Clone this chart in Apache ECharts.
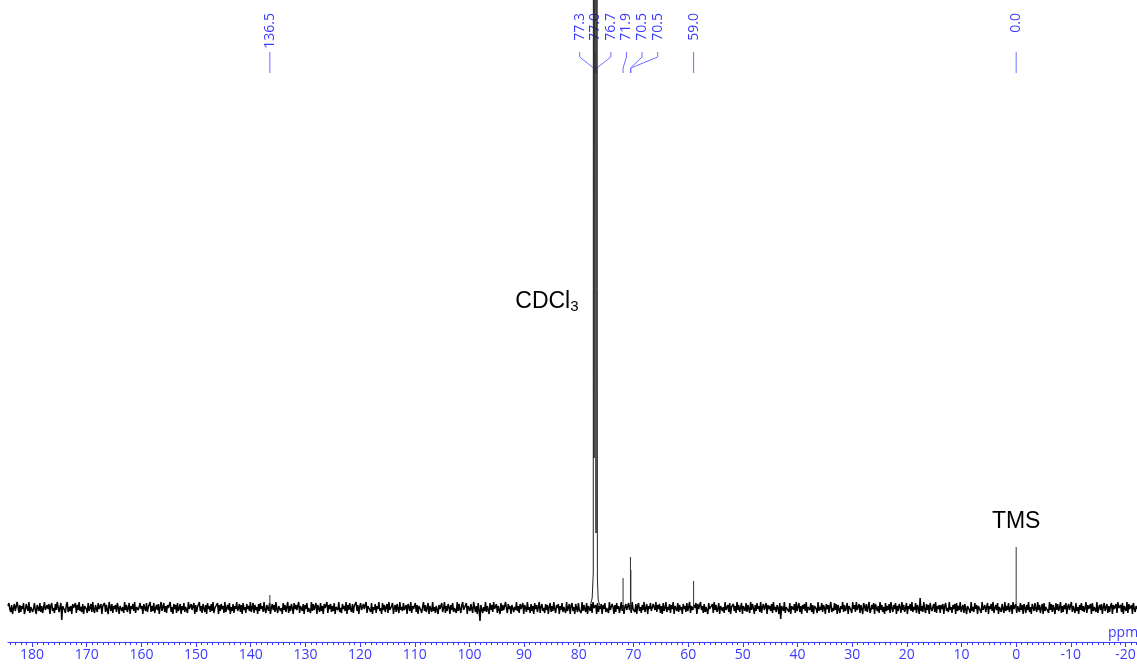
<!DOCTYPE html>
<html>
<head>
<meta charset="utf-8">
<script src="https://cdn.jsdelivr.net/npm/echarts@6/dist/echarts.min.js"></script>
<style>
  html, body { margin: 0; padding: 0; background: #fff; }
  #main { width: 1137px; height: 666px; }
</style>
</head>
<body>
<div id="main"></div>
<script>
// 13C spectrum, ppm axis runs right to left
var ppmStart = 184.4;
var ppmEnd = -22.1;

// baseline noise, evenly sampled from ppmStart to ppmEnd (px-ish units above baseline)
var noise = [
  2,5,-1,-4,3,-6,0,4,-3,-2,6,1,-5,3,-4,2,-1,5,-6,-2,4,0,-3,6,-5,1,3,-4,-1,5,-2,
  -6,3,1,-3,5,-4,2,-5,0,6,-2,-4,3,-1,4,-6,2,5,-3,0,-5,4,-2,6,1,-4,-3,5,-12,2,4,
  -2,-5,3,6,-4,1,-3,2,-6,4,0,-1,5,-5,3,-2,6,-3,1,-4,4,-6,2,3,-1,-5,5,-3,0,4,-4,
  6,-2,-5,3,1,-4,5,-1,-3,4,-6,2,0,5,-4,3,-2,-6,6,1,-3,4,-5,2,-1,3,-4,5,0,-6,2,
  4,-3,1,-5,6,-2,3,-4,0,5,-6,2,-1,4,-3,6,-5,1,3,-2,-4,5,-1,2,-6,4,0,-3,5,-4,1,
  -1,6,-4,2,-3,5,-5,0,3,-2,4,-6,1,6,-3,-1,5,-4,2,-5,3,0,-2,6,-4,1,-6,4,-1,3,-5,
  5,-3,0,4,-6,2,-2,5,-4,1,3,-5,6,-1,-3,4,-2,0,5,-6,3,-4,1,-1,6,-3,2,-5,4,0,-4,
  3,-6,5,-1,2,-4,4,-3,6,-5,0,1,-2,5,-6,3,-3,4,-1,2,-5,6,-4,0,3,-2,5,-6,1,-3,4,
  -5,2,-1,6,-3,0,4,-4,3,-6,5,-2,1,-5,4,-1,2,-3,6,-4,0,5,-5,3,-2,1,-6,4,-3,5,-1,
  2,-4,6,-2,-5,3,1,-3,5,-6,0,4,-2,3,-4,6,-1,-5,2,4,-3,0,-6,5,-2,3,-4,1,6,-5,2,
  -3,4,0,-6,5,-1,3,-2,-4,6,-5,2,1,-3,4,-6,3,-1,5,-4,0,2,-5,6,-3,4,-2,-1,5,-6,3,
  1,-4,5,-3,2,-6,4,0,-2,6,-5,3,-1,4,-4,2,-3,5,-6,1,3,-2,6,-4,0,-5,4,-1,2,-3,6,
  -6,3,-2,5,-1,-4,4,-5,2,0,6,-3,3,-6,1,5,-2,-4,4,-1,-3,6,-5,2,0,3,-4,5,-6,1,-2,
  4,-5,2,-1,6,-3,0,-6,5,-2,3,-4,1,4,-5,6,-2,-3,2,5,-6,0,3,-4,4,-1,-5,6,-2,1,-3,
  5,-2,-4,3,-6,4,1,-3,6,-5,2,-1,0,5,-4,3,-6,2,4,-2,-5,1,6,-3,3,-4,0,5,-6,2,-1,
  -4,6,-3,1,-5,2,4,-6,3,-1,-2,5,-4,0,6,-5,2,-3,4,1,-6,3,-2,5,-4,0,2,-5,6,-3,4,
  -1,-5,3,6,-2,0,-4,5,-6,2,3,-3,4,-1,-5,6,1,-4,2,-6,5,-2,-13,3,4,-5,1,-3,6,-4,2,
  0,-6,5,-2,3,-4,6,-1,-3,4,-5,2,1,-6,5,-3,3,-2,-4,6,0,-5,4,-1,2,-6,3,5,-4,1,-2,
  6,-3,2,-5,4,-1,-2,5,-6,3,0,-4,6,-2,1,-5,4,-3,2,-6,5,-1,3,-4,-2,6,-5,1,4,-3,0,
  -5,4,-2,3,-6,1,5,-4,2,-3,6,-1,-5,3,0,4,-6,2,-2,5,-4,1,3,-5,6,-3,-1,4,-6,2,5,
  -3,1,-6,4,2,-4,5,-2,0,-5,6,-3,3,-1,-4,5,-6,2,1,-3,4,-5,6,0,-2,3,-6,5,-4,2,-1,
  4,-6,3,-1,5,-4,0,2,-5,6,-2,-3,4,1,-6,3,-4,5,-1,2,-5,0,6,-3,3,-6,1,4,-2,-4,5,
  -2,3,-5,6,-1,0,-4,4,-6,2,5,-3,1,-5,3,-2,6,-4,0,4,-6,2,-1,5,-3,-5,4,1,-2,6,-4,
  3,-1,4,-5,2,-6,5,-3,0,6,-4,1,-2,4,-5,3,-1,6,-6,2,0,-3,5,-4,3,-2,1,-6,4,-1,2,
  -4,5,-3,1,6,-5,2,-2,-4,3,0,5,-6,4,-1,-3,6,-2,2,-5,4,-4,1,3,-6,5,-1,0,-3,4,-5,
  6,-2,3,-4,-1,5,-6,2,4,-3,1,-5,6,-2,0,3,-4,5,-6,1,-1,4,-3,2,-5,6,-2,3,-4,0,5,
  -6,2,1,-3,5,-4,3,-1,-5,6,-2,4,0,-6,3,-3,5,-1,2,-4,6,-5,1,4,-2,-3,5,-6,3,-1,2,
  -3,4,-5,6,-2,1,-4,3,0,-6,5,-11,2,4,-3,6,-5,1,-1,3,-4,5,-6,2,0,-2,4,-5,6,-3,1,
  5,-4,2,-6,3,-1,4,-3,6,-5,1,0,-2,5,-4,3,-6,2,4,-1,-5,6,-3,1,-2,5,-4,3,0,-6,4,
  -1,3,-5,2,6,-4,0,-3,5,-2,4,-6,3,1,-5,2,-1,6,-4,3,-3,0,5,-6,2,4,-2,-5,6,-1,3,
  -4,6,-2,0,4,-5,3,-1,-6,5,2,-3,4,-4,1,6,-5,-2,3,-1,5,-6,4,0,-3,2,-5,6,-2,3,-4,
  1,-6,5,-3,2,-2,4,-5,6,0,-4,3,-1,5,-6,2,-3,4,1,-5,6,-2,3,-4,0,5,-6,2,-1,4,-3,
  6,-4,1,-2,5,-5,3,0,-6,10,-3,2,-4,6,-1,-5,4,-2,3,-6,5,0,-3,1,4,-4,6,-5,2,-1,3,
  -5,3,-1,4,-6,2,5,-3,0,-4,6,-2,1,-5,3,-1,4,-6,5,-3,2,-2,6,-4,0,3,-5,4,-1,-6,2,
  4,-2,-5,6,-3,1,-4,5,-1,3,-6,2,0,4,-5,6,-2,-3,3,-4,1,5,-6,2,-1,4,-3,6,-5,0,3,
  -2,5,-6,1,3,-4,4,-1,-5,6,-3,2,-2,5,-4,0,3,-6,6,-1,-3,4,-5,2,1,-4,5,-2,3,-6,4,
  0,-5,3,-2,6,-4,1,-6,4,2,-3,5,-1,-4,6,-2,3,-5,0,4,-6,5,-3,1,-1,3,-5,6,-2,4,-4,
  3,-1,-6,5,-2,4,-3,0,6,-5,2,-4,3,-1,5,-6,1,4,-2,-3,6,-4,2,0,-5,5,-3,1,-6,3,-2,
  5,-3,2,-4,0,6,-5,3,-1,-2,4,-6,5,-3,1,2,-4,6,-5,0,3,-2,4,-6,1,5,-3,-1,4,-5,2,
  -4,2,5,-6,3,-1,-3,4,-5,6,0,-2,3,-4,5,-6,2,1,-3,6,-5,4,-1,-2,3,-6,5,0,-4,2,-1
];

// sharp peaks [ppm, height]
var peaks = [
  [136.5, 13],
  [71.9, 30],
  [70.55, 51],
  [70.47, 38],
  [59.0, 27],
  [0.0, 61]
];

// solvent triplet, runs off the top
var cdcl3 = [
  [77.9, 2], [77.55, 10], [77.35, 35], [77.3, 2000], [77.2, 150],
  [77.0, 2000], [76.85, 75], [76.7, 2000], [76.6, 30], [76.45, 8], [76.1, 2]
];

var peakLabels = ['136.5', '77.3', '77.0', '76.7', '71.9', '70.5', '70.5', '59.0', '0.0'];
var peakLabelPpm = [136.5, 77.3, 77.0, 76.7, 71.9, 70.55, 70.47, 59.0, 0.0];

var majorTicks = [180, 170, 160, 150, 140, 130, 120, 110, 100, 90, 80, 70, 60, 50, 40, 30, 20, 10, 0, -10, -20];
var minorTicks = [];
for (var t = 184; t >= -22; t--) minorTicks.push(t);

var blue = '#3b3bff';
var lineBlue = '#6f6fff';

var step = (ppmStart - ppmEnd) / (noise.length - 1);
var noiseData = noise.map(function (v, i) { return [ppmStart - i * step, v]; });

var series = [{
  type: 'line',
  data: noiseData,
  symbol: 'none',
  lineStyle: { color: '#000', width: 1.5 },
  silent: true
}, {
  type: 'line',
  data: cdcl3,
  symbol: 'none',
  lineStyle: { color: '#222', width: 1 },
  silent: true
}];
peaks.forEach(function (p) {
  series.push({
    type: 'line',
    data: [[p[0], -2], [p[0], p[1]]],
    symbol: 'none',
    lineStyle: { color: '#333', width: 1 },
    silent: true
  });
});

var chart = echarts.init(document.getElementById('main'));
chart.setOption({
  animation: false,
  grid: { left: 8, right: 0, top: 0, bottom: 38, outerBoundsMode: 'none', containLabel: false },
  xAxis: [{
    type: 'value',
    min: ppmEnd,
    max: ppmStart,
    inverse: true,
    position: 'bottom',
    offset: 14,
    axisLine: { onZero: false, lineStyle: { color: blue, width: 1 } },
    axisTick: { customValues: majorTicks, length: 5, lineStyle: { color: blue } },
    axisLabel: {
      customValues: majorTicks,
      color: blue,
      fontFamily: 'Open Sans',
      fontSize: 14,
      margin: 6
    },
    splitLine: { show: false }
  }, {
    type: 'value',
    min: ppmEnd,
    max: ppmStart,
    inverse: true,
    position: 'bottom',
    offset: 14,
    axisLine: { show: false, onZero: false },
    axisTick: { customValues: minorTicks, length: 3, lineStyle: { color: blue } },
    axisLabel: { show: false },
    splitLine: { show: false }
  }],
  yAxis: { type: 'value', min: -20, max: 608, show: false },
  series: series
});

function px(ppm) {
  return chart.convertToPixel({ xAxisIndex: 0 }, ppm);
}

// spread peak labels so they do not overlap
var gap = 15.6;
var clusterShift = 7;
var peakX = peakLabelPpm.map(px);
var labelX = peakX.slice();
for (var it = 0; it < 300; it++) {
  for (var i = 0; i < labelX.length - 1; i++) {
    var d = labelX[i + 1] - labelX[i];
    if (d < gap) {
      var s = (gap - d) / 2;
      labelX[i] -= s;
      labelX[i + 1] += s;
    }
  }
}
labelX = labelX.map(function (x, i) {
  return Math.abs(x - peakX[i]) > 0.5 ? x + clusterShift : x;
});

var graphics = [];
peakLabels.forEach(function (txt, i) {
  var lx = labelX[i], p = peakX[i];
  graphics.push({
    type: 'polyline',
    silent: true,
    shape: { points: [[lx, 52], [lx, 57], [p, 68], [p, 73]] },
    style: { stroke: lineBlue, lineWidth: 1, fill: null }
  });
  graphics.push({
    type: 'text',
    silent: true,
    x: lx,
    y: 13,
    rotation: Math.PI / 2,
    style: {
      text: txt,
      align: 'right',
      verticalAlign: 'middle',
      fill: blue,
      font: '14px "Open Sans"'
    }
  });
});

graphics.push({
  type: 'text',
  silent: true,
  x: px(77.3) - 15,
  y: 302,
  style: {
    text: '{a|CDCl}{b|3}',
    align: 'right',
    verticalAlign: 'middle',
    rich: {
      a: { fontFamily: 'Liberation Sans', fontSize: 23, fill: '#000', color: '#000' },
      b: { fontFamily: 'Liberation Sans', fontSize: 15, fill: '#000', color: '#000', padding: [10, 0, 0, 0] }
    }
  }
});
graphics.push({
  type: 'text',
  silent: true,
  x: px(0),
  y: 522,
  style: {
    text: 'TMS',
    align: 'center',
    verticalAlign: 'middle',
    fill: '#000',
    font: '23px "Liberation Sans"'
  }
});
graphics.push({
  type: 'text',
  silent: true,
  x: 1108,
  y: 633,
  style: {
    text: 'ppm',
    align: 'left',
    verticalAlign: 'middle',
    fill: blue,
    font: '14px "Open Sans"'
  }
});

chart.setOption({ graphic: graphics });
</script>
</body>
</html>
